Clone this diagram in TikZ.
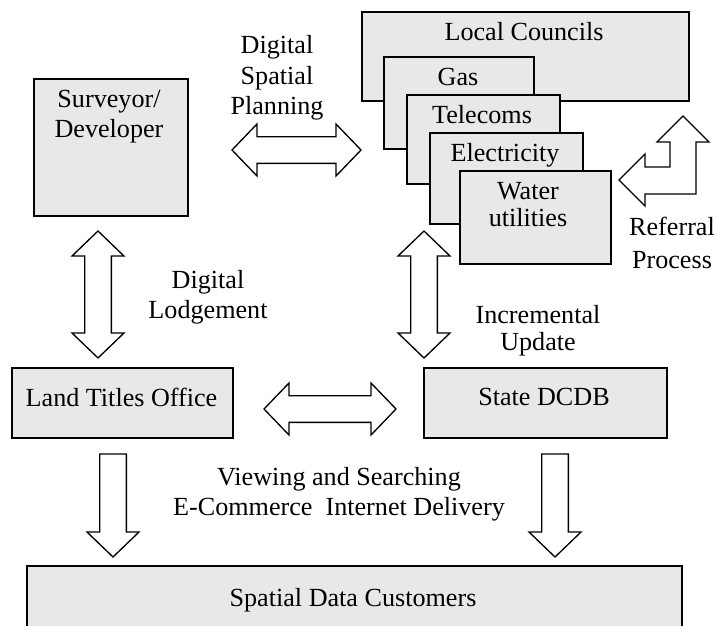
\documentclass[tikz,border=0pt]{standalone}
\usepackage{fontspec}
\setmainfont{Liberation Serif}
\usetikzlibrary{calc}

\definecolor{boxgray}{RGB}{232,232,232}

\tikzset{every picture/.style={line width=0.75pt}}
\tikzset{
  orgbox/.style 2 args={draw=black, fill=boxgray, line width=1.7pt, inner sep=0pt,
    anchor=north west, minimum width=#1*0.75pt, minimum height=#2*0.75pt},
  lbl/.style={inner sep=0.75pt, align=center, font=\fontsize{19.6pt}{#1}\selectfont},
  lbl/.default=22.5pt,
  blockarrow/.style={draw=black, fill=white, line width=1pt, line join=miter},
  % horizontal double block arrow, left tip to right tip
  dblh/.style={blockarrow, to path={let \p1=(\tikztostart), \p2=(\tikztotarget) in
    -- (\x1+18.75pt,\y1+19.5pt) -- (\x1+18.75pt,\y1+10pt) -- (\x2-18.75pt,\y1+10pt)
    -- (\x2-18.75pt,\y1+19.5pt) -- (\p2) -- (\x2-18.75pt,\y1-19.5pt)
    -- (\x2-18.75pt,\y1-10pt) -- (\x1+18.75pt,\y1-10pt) -- (\x1+18.75pt,\y1-19.5pt) -- cycle}},
  % vertical double block arrow, top tip to bottom tip
  dblv/.style={blockarrow, to path={let \p1=(\tikztostart), \p2=(\tikztotarget) in
    -- (\x1+19.5pt,\y1+18.75pt) -- (\x1+10pt,\y1+18.75pt) -- (\x1+10pt,\y2-18.75pt)
    -- (\x1+19.5pt,\y2-18.75pt) -- (\p2) -- (\x1-19.5pt,\y2-18.75pt)
    -- (\x1-10pt,\y2-18.75pt) -- (\x1-10pt,\y1+18.75pt) -- (\x1-19.5pt,\y1+18.75pt) -- cycle}},
  % single block arrow pointing down, tail to tip
  downarr/.style={blockarrow, to path={let \p1=(\tikztostart), \p2=(\tikztotarget) in
    -- (\x1+10pt,\y1) -- (\x1+10pt,\y2-18.75pt) -- (\x1+19.5pt,\y2-18.75pt) -- (\p2)
    -- (\x1-19.5pt,\y2-18.75pt) -- (\x1-10pt,\y2-18.75pt) -- (\x1-10pt,\y1) -- cycle}},
}

\begin{document}
\begin{tikzpicture}[x=0.75pt,y=0.75pt,yscale=-1,xscale=1]
\useasboundingbox (0,0) rectangle (716,625);
\clip (0,0) rectangle (716,625);

%Shape: Rectangle
\node[orgbox={154}{137}] (surv) at (33,78) {};
%Shape: Rectangle
\node[orgbox={327}{89}] (lc) at (361,11) {};
%Shape: Rectangle
\node[orgbox={150}{92}] (gas) at (383,56) {};
%Shape: Rectangle
\node[orgbox={153}{89}] (tel) at (406,94) {};
%Shape: Rectangle
\node[orgbox={153}{91}] (elec) at (429,132) {};
%Shape: Rectangle
\node[orgbox={151}{93}] (water) at (459,170) {};
%Shape: Rectangle
\node[orgbox={221}{70}] (lto) at (11,367) {};
%Shape: Rectangle
\node[orgbox={243}{70}] (dcdb) at (423,367) {};
%Shape: Rectangle
\node[orgbox={655}{90}] (sdc) at (26,565) {};

% Text Node
\node[lbl] (survT) at (109,117) {Surveyor/\\Developer};
% Text Node
\node[lbl] (lcT) at (524,32) {Local Councils};
% Text Node
\node[lbl] (gasT) at (458,77) {Gas};
% Text Node
\node[lbl] (telT) at (482,115) {Telecoms};
% Text Node
\node[lbl] (elecT) at (505,155) {Electricity};
% Text Node
\node[lbl=20.25pt] (waterT) at (528,205) {Water\\utilities};
% Text Node
\node[lbl] (ltoT) at (121.5,397) {Land Titles Office};
% Text Node
\node[lbl] (dcdbT) at (544,397) {State DCDB};
% Text Node
\node[lbl] (sdcT) at (353,600) {Spatial Data Customers};

% Text Node
\node[lbl=22.9pt] (dspT) at (277,78) {Digital\\Spatial\\Planning};
% Text Node
\node[lbl] (dlT) at (208,297) {Digital\\Lodgement};
% Text Node
\node[lbl=20.25pt] (iuT) at (538,331) {Incremental\\Update};
% Text Node
\node[lbl=24.75pt] (refT) at (672,243) {Referral\\Process};
% Text Node
\node[lbl] (vwT) at (339,494) {Viewing and Searching\\E-Commerce\ \ Internet Delivery};

% arrow ends
\coordinate (dspA) at (232,150);
\coordinate (dspB) at (361,150);
\coordinate (dlA) at (98,231);
\coordinate (dlB) at (98,358);
\coordinate (iuA) at (424,231);
\coordinate (iuB) at (424,358);
\coordinate (ltA) at (264,409);
\coordinate (ltB) at (396,409);
\coordinate (vwA) at (113,454);
\coordinate (vwB) at (113,557);
\coordinate (ecA) at (555,454);
\coordinate (ecB) at (555,557);
\coordinate (refTip) at (619,180);

%Shape: Double Arrow
\draw[dblh] (dspA) to (dspB);
%Shape: Double Arrow
\draw[dblv] (dlA) to (dlB);
%Shape: Double Arrow
\draw[dblv] (iuA) to (iuB);
%Shape: Double Arrow
\draw[dblh] (ltA) to (ltB);
%Shape: Down Arrow
\draw[downarr] (vwA) to (vwB);
%Shape: Down Arrow
\draw[downarr] (ecA) to (ecB);
%Shape: Bent Arrow
\draw[blockarrow] (refTip) -- ++(26,-26) -- ++(0,13) -- ++(25,0) -- ++(0,-25) -- ++(-13,0)
  -- ++(26,-26) -- ++(26,26) -- ++(-13,0) -- ++(0,52) -- ++(-51,0) -- ++(0,12) -- cycle;

\end{tikzpicture}
\end{document}
